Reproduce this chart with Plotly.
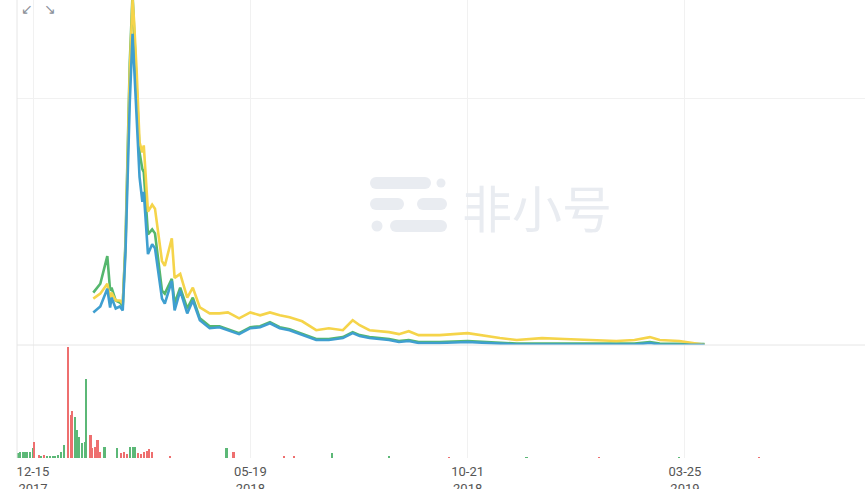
import plotly.graph_objects as go

# ---------------- data ----------------
dates = ["2018-01-27","2018-02-01","2018-02-06","2018-02-08","2018-02-09","2018-02-12","2018-02-15",
         "2018-02-17","2018-02-19","2018-02-22","2018-02-24","2018-02-25","2018-02-27","2018-03-01",
         "2018-03-03","2018-03-04","2018-03-07","2018-03-10","2018-03-12","2018-03-17","2018-03-19",
         "2018-03-24","2018-03-26","2018-03-30","2018-04-04","2018-04-08","2018-04-13","2018-04-20",
         "2018-04-27","2018-05-03","2018-05-11","2018-05-19","2018-05-26","2018-06-02","2018-06-09",
         "2018-06-16","2018-06-25","2018-07-05","2018-07-14","2018-07-24","2018-07-31","2018-08-05",
         "2018-08-12","2018-08-26","2018-09-02","2018-09-09","2018-09-16","2018-10-01","2018-10-21",
         "2018-11-02","2018-11-13","2018-11-25","2018-12-13","2018-12-29","2019-01-14","2019-02-04",
         "2019-02-17","2019-02-28","2019-03-07","2019-03-21","2019-04-08"]

price_green = [53,62,90,55,58,45,43,40,105,285,355,325,255,195,178,175,112,117,113,55,52,
               67,42,58,37,48,27,19,19,16,12,18,19,23,18,16,11,6,6,8,13,10,8,6,4,5,3,3,4,
               3,2,1.5,1.5,1.5,1.5,1.5,1.5,3,1.5,1.2,1]
price_yellow = [47,52,62,47,53,45,45,42,100,275,350,330,275,205,195,202,135,142,138,85,80,
                108,68,72,48,58,38,32,32,33,27,33,30,33,30,28,24,15,17,15,25,20,15,13,11,14,10,10,12,
                9,7,5,7,6,5,4,5,8,5,4,0.3]
price_blue = [33,39,57,38,48,37,39,35,95,245,315,285,235,170,145,155,92,102,98,47,42,
              65,35,55,32,45,25,17,18,15,11,17,18,22,17,15,10,5,5,7,12,9,7,5,3,4,2,2,3,
              2,1,0.5,0.5,0.5,0.5,0.5,0.5,2,0.5,0.3,0.2]

vol_dates = ["2017-12-04","2017-12-06","2017-12-08","2017-12-09","2017-12-11","2017-12-13",
             "2017-12-15","2017-12-16","2017-12-19","2017-12-21","2017-12-23","2017-12-25",
             "2017-12-27","2017-12-29","2017-12-31","2018-01-02","2018-01-04","2018-01-06",
             "2018-01-09","2018-01-11","2018-01-12","2018-01-14","2018-01-15","2018-01-17",
             "2018-01-19","2018-01-21","2018-01-22","2018-01-25","2018-01-26","2018-01-28",
             "2018-01-30","2018-02-01","2018-02-04","2018-02-13","2018-02-16","2018-02-18",
             "2018-02-20","2018-02-22","2018-02-24","2018-02-26","2018-02-28","2018-03-02",
             "2018-03-04","2018-03-06","2018-03-08","2018-03-10","2018-03-23","2018-05-02",
             "2018-05-07","2018-06-12","2018-06-19","2018-07-16","2018-08-26","2018-10-08",
             "2018-12-02","2019-01-23","2019-03-21","2019-05-17"]
vol_values = [5,6,6,6,6,6,10,16,3,2,3,2,2,2,2,3,6,13,111,43,47,41,28,21,15,16,79,23,10,11,18,6,
              11,10,5,6,4,11,11,11,5,4,6,7,9,6,2,10,6,2,2,5,2,1,1,1,1,1]
vol_up = [1,1,1,1,1,1,1,0,0,1,0,1,1,1,1,1,1,1,0,0,0,1,1,1,1,1,1,0,0,0,0,0,1,1,0,0,0,1,1,1,0,0,
          0,0,0,0,0,1,0,0,0,1,1,0,1,0,1,0]

tick_vals = ["2017-12-15", "2018-05-19", "2018-10-21", "2019-03-25"]
tick_text = ["12-15<br>2017", "05-19<br>2018", "10-21<br>2018", "03-25<br>2019"]

# ---------------- styling ----------------
GREEN = "#55b76d"
YELLOW = "#f5d44a"
BLUE = "#3f9fd0"
VOL_UP = "#5cb877"
VOL_DOWN = "#ee6f6f"
GRID = "#f1f1f1"

W, H = 865, 489
ML, MR, MT, MB = 17, 0, 0, 31
PW, PH = W - ML - MR, H - MT - MB
split = (PH - 345) / PH  # separator between price and volume panels

fig = go.Figure()
fig.add_trace(go.Scatter(x=dates, y=price_green, mode="lines", line=dict(color=GREEN, width=2.6),
                         xaxis="x", yaxis="y", hoverinfo="skip"))
fig.add_trace(go.Scatter(x=dates, y=price_yellow, mode="lines", line=dict(color=YELLOW, width=2.6),
                         xaxis="x", yaxis="y", hoverinfo="skip"))
fig.add_trace(go.Scatter(x=dates, y=price_blue, mode="lines", line=dict(color=BLUE, width=2.6),
                         xaxis="x", yaxis="y", hoverinfo="skip"))
fig.add_trace(go.Bar(x=vol_dates, y=vol_values,
                     marker=dict(color=[VOL_UP if u else VOL_DOWN for u in vol_up], line=dict(width=0)),
                     width=1.5 * 86400000, xaxis="x2", yaxis="y2", hoverinfo="skip"))

xr = ["2017-12-03 14:00", "2019-07-31 10:00"]
fig.update_layout(
    width=W, height=H, margin=dict(l=ML, r=MR, t=MT, b=MB, autoexpand=False),
    paper_bgcolor="white", plot_bgcolor="white", showlegend=False, bargap=0,
    xaxis=dict(domain=[0, 1], range=xr, anchor="y", type="date", tickvals=tick_vals,
               showticklabels=False, showgrid=True, gridcolor=GRID, zeroline=False, ticks="",
               automargin=False),
    yaxis=dict(domain=[split, 1], range=[0, 349.2], tickvals=[0, 250], showticklabels=False,
               showgrid=True, gridcolor=GRID, zeroline=False, ticks="", automargin=False),
    xaxis2=dict(domain=[0, 1], range=xr, anchor="y2", type="date", matches="x",
                tickvals=tick_vals, ticktext=tick_text, showgrid=True, gridcolor=GRID,
                zeroline=False, ticks="", automargin=False, ticklabelstandoff=4,
                tickfont=dict(size=13, color="#555", family="Roboto")),
    yaxis2=dict(domain=[0, split], range=[0, 113], showticklabels=False, showgrid=False,
                zeroline=False, ticks="", automargin=False),
)

def px(x): return (x - ML) / PW
def py(y): return (H - MB - y) / PH

shapes = []
# separator and left border
shapes.append(dict(type="line", xref="paper", yref="paper", x0=0, x1=1, y0=py(345), y1=py(345),
                   line=dict(color="#e6e6e6", width=1)))
shapes.append(dict(type="line", xref="paper", yref="paper", x0=0, x1=0, y0=0, y1=1,
                   line=dict(color="#e6e6e6", width=1)))
# watermark logo
WM = "#e9ecf1"
def bar(x0, x1, y0, y1):
    r = (y1 - y0) / 2
    shapes.append(dict(type="rect", xref="paper", yref="paper", x0=px(x0 + r), x1=px(x1 - r),
                       y0=py(y1), y1=py(y0), fillcolor=WM, line=dict(width=0), layer="below"))
    for cx in (x0 + r, x1 - r):
        shapes.append(dict(type="circle", xref="paper", yref="paper", x0=px(cx - r), x1=px(cx + r),
                           y0=py(y1), y1=py(y0), fillcolor=WM, line=dict(width=0), layer="below"))
def dot(cx, cy, r):
    shapes.append(dict(type="circle", xref="paper", yref="paper", x0=px(cx - r), x1=px(cx + r),
                       y0=py(cy + r), y1=py(cy - r), fillcolor=WM, line=dict(width=0), layer="below"))
bar(370, 431, 177, 189)
dot(441, 183, 4.5)
bar(370, 404, 198, 210)
bar(417, 447, 198, 210)
dot(377, 226, 5.5)
bar(390, 447, 220, 232)
fig.update_layout(shapes=shapes)

fig.add_annotation(xref="paper", yref="paper", x=px(537), y=py(206), text="非小号", showarrow=False,
                   font=dict(size=50, color=WM, family="Noto Sans CJK SC"), xanchor="center",
                   yanchor="middle")
for xx, sym in ((27, "↙"), (50, "↘")):
    fig.add_annotation(xref="paper", yref="paper", x=px(xx), y=py(9), text=sym, showarrow=False,
                       font=dict(size=14, color="#8a8f99"), xanchor="center", yanchor="middle")

fig.write_html("out.html", config={"displayModeBar": False},
               post_script="document.body.style.margin='0px';document.body.style.overflow='hidden';")
